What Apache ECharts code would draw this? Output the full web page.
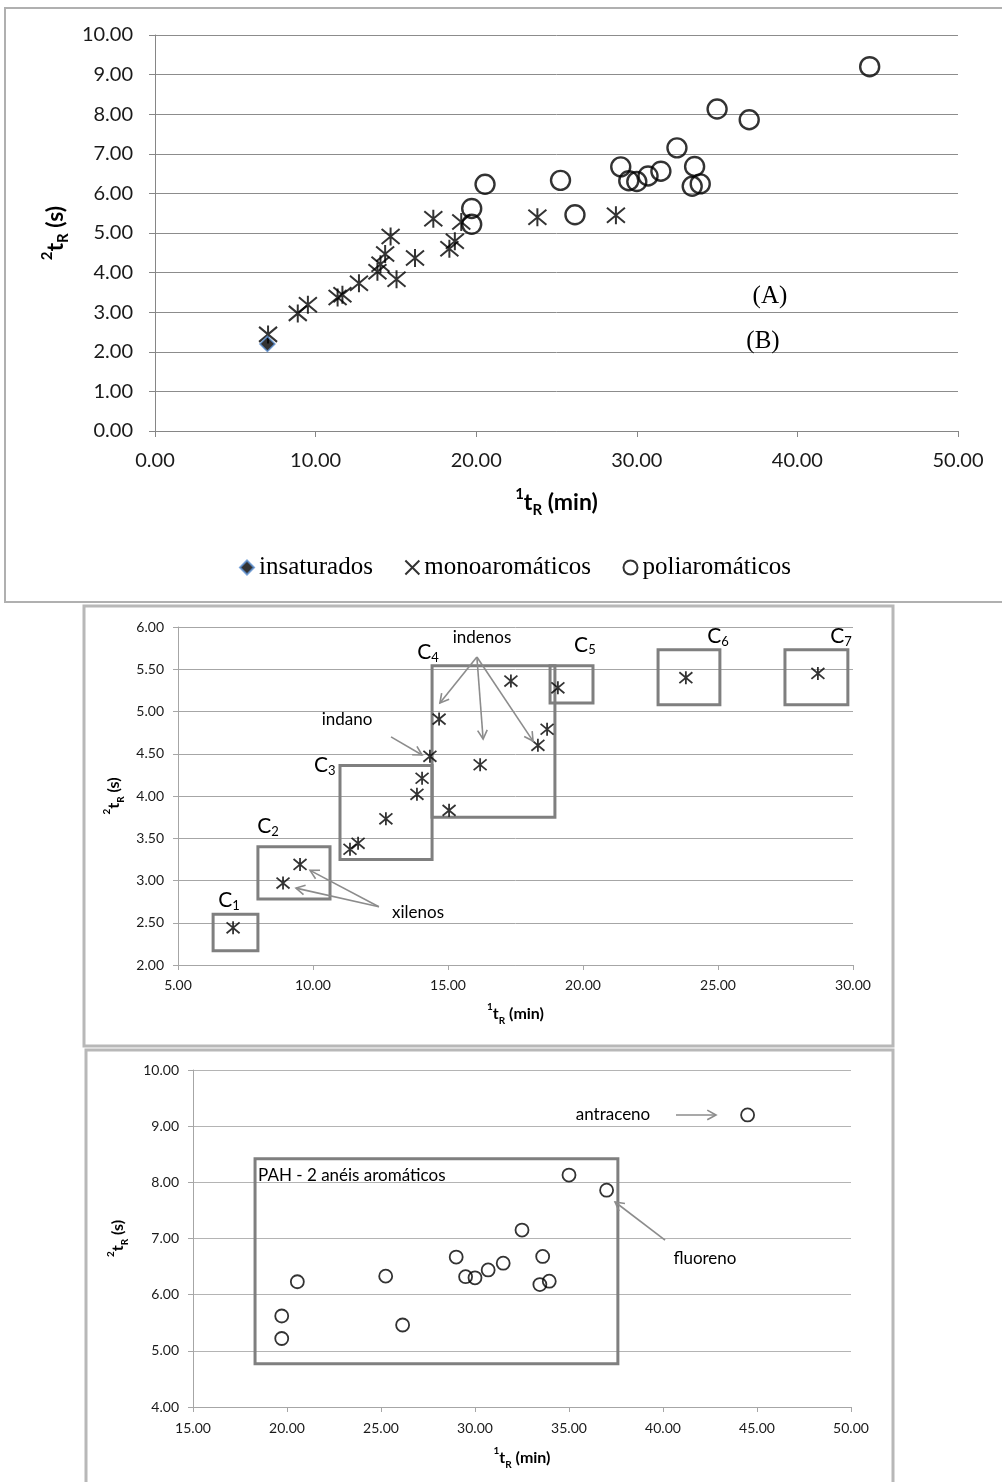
<!DOCTYPE html>
<html>
<head>
<meta charset="utf-8">
<script src="https://cdn.jsdelivr.net/npm/echarts@6/dist/echarts.min.js"></script>
<style>
  html, body { margin: 0; padding: 0; background: #fff; }
  #chart { width: 1002px; height: 1482px; }
</style>
</head>
<body>
<div id="chart"></div>
<script>
// Retention times: first dimension (min) and second dimension (s)
const insatX = [7.00];
const insatY = [2.20];

const monoX = [7.04, 8.89, 9.52, 11.37, 11.67, 12.70, 13.85, 14.04, 14.33, 14.67, 15.04, 16.19, 17.33, 18.33, 18.67, 19.07, 23.81, 28.70];
const monoY = [2.44, 2.97, 3.19, 3.37, 3.44, 3.73, 4.02, 4.21, 4.47, 4.91, 3.83, 4.37, 5.36, 4.60, 4.79, 5.28, 5.40, 5.45];

const poliX = [19.72, 19.72, 20.55, 25.25, 26.15, 29.00, 29.50, 30.00, 30.70, 31.50, 32.50, 33.60, 33.45, 33.95, 35.00, 37.00, 44.50];
const poliY = [5.62, 5.22, 6.23, 6.33, 5.46, 6.67, 6.32, 6.30, 6.44, 6.56, 7.15, 6.68, 6.18, 6.24, 8.13, 7.86, 9.20];

const seriesNames = ['insaturados', 'monoaromáticos', 'poliaromáticos'];

// Carbon-number groups of the monoaromatics: [xMin, yMin, xMax, yMax]
const groupBoxes = [
  [6.30, 2.17, 7.96, 2.60],
  [7.96, 2.78, 10.63, 3.40],
  [11.00, 3.25, 14.41, 4.36],
  [14.41, 3.75, 18.96, 5.54],
  [18.78, 5.10, 20.37, 5.54],
  [22.78, 5.08, 25.07, 5.73],
  [27.48, 5.08, 29.81, 5.73]
];
const groupLabels = ['1', '2', '3', '4', '5', '6', '7'];
const groupLabelPos = [[6.89, 2.77], [8.33, 3.64], [10.44, 4.36], [14.26, 5.70], [20.07, 5.79], [25.00, 5.89], [29.56, 5.89]];

// Compound annotations in the monoaromatics panel
const monoNotes = [['indenos', 16.26, 5.87], ['indano', 11.26, 4.90], ['xilenos', 13.89, 2.62]];
const monoArrows = [
  [16.07, 5.645, 14.70, 5.10],
  [16.07, 5.645, 16.30, 4.675],
  [16.07, 5.645, 18.15, 4.65],
  [12.89, 4.70, 14.04, 4.485],
  [12.44, 2.69, 9.89, 3.12],
  [12.44, 2.69, 9.37, 2.91]
];

// Annotations in the polyaromatics panel
const pahBox = [18.30, 4.77, 37.60, 8.42];
const pahNotes = [['PAH - 2 anéis aromáticos', 18.46, 8.13, 'left'], ['antraceno', 37.34, 9.20, 'center'], ['fluoreno', 42.23, 6.65, 'center']];
const pahArrows = [
  [40.69, 9.20, 42.82, 9.20],
  [40.11, 6.97, 37.45, 7.65]
];

// Panel tags of the overview
const overviewTags = [['(A)', 38.29, 3.41], ['(B)', 37.86, 2.27]];

const zip = (xs, ys) => xs.map((x, i) => [x, ys[i]]);

const ASTERISK = 'path://M0,0L10,10M10,0L0,10M5,-1L5,11';
const CROSS = 'path://M0,0L10,10M10,0L0,10';
const SANS = 'Lato';
const SERIF = 'Liberation Serif';
const NOTE_GRAY = '#8c8c8c';

function nameRich(size, sub) {
  return {
    rich: {
      b: { fontSize: size, fontWeight: 'bold', fontFamily: SANS, color: '#000', lineHeight: size + 8 },
      sup: { fontSize: sub, fontWeight: 'bold', fontFamily: SANS, color: '#000', verticalAlign: 'top', lineHeight: sub + 2 },
      sub: { fontSize: sub, fontWeight: 'bold', fontFamily: SANS, color: '#000', verticalAlign: 'bottom', lineHeight: sub + 2 }
    }
  };
}

function axis(gridIndex, min, max, interval, o) {
  return {
    type: 'value', gridIndex, min, max, interval,
    name: o.name, nameLocation: 'middle', nameGap: o.nameGap, nameRotate: o.rotate || 0,
    nameTextStyle: nameRich(o.nameSize, o.subSize),
    axisLine: { show: true, lineStyle: { color: o.axisColor, width: 1 } },
    axisTick: { show: true, inside: false, length: o.tick, lineStyle: { color: o.axisColor } },
    axisLabel: { fontFamily: SANS, fontSize: o.labelSize, color: '#1a1a1a', margin: o.margin,
      formatter: v => v.toFixed(2) },
    splitLine: { show: o.grid, lineStyle: { color: o.gridColor, width: 1 } }
  };
}

function textSeries(gridIndex, items, style) {
  return {
    type: 'custom', xAxisIndex: gridIndex, yAxisIndex: gridIndex, silent: true, z: 5,
    data: items.map(t => [t[1], t[2]]),
    renderItem: (params, api) => {
      const p = api.coord([api.value(0), api.value(1)]);
      const it = items[params.dataIndex];
      return { type: 'text', x: p[0], y: p[1],
        style: Object.assign({ text: it[0], align: it[3] || 'center', verticalAlign: 'middle' }, style) };
    }
  };
}

function boxSeries(gridIndex, boxes) {
  return {
    type: 'custom', xAxisIndex: gridIndex, yAxisIndex: gridIndex, silent: true, z: 1,
    data: boxes,
    renderItem: (params, api) => {
      const a = api.coord([api.value(0), api.value(3)]);
      const b = api.coord([api.value(2), api.value(1)]);
      return { type: 'rect', shape: { x: a[0], y: a[1], width: b[0] - a[0], height: b[1] - a[1] },
        style: { fill: 'none', stroke: '#7f7f7f', lineWidth: 3 } };
    }
  };
}

// Pointer arrows with an open head at the second point
function arrowSeries(gridIndex, arrows) {
  return {
    type: 'custom', xAxisIndex: gridIndex, yAxisIndex: gridIndex, silent: true, z: 4,
    data: arrows,
    renderItem: (params, api) => {
      const s = api.coord([api.value(0), api.value(1)]);
      const e = api.coord([api.value(2), api.value(3)]);
      const ang = Math.atan2(e[1] - s[1], e[0] - s[0]);
      const len = 10, spread = 0.5;
      const h1 = [e[0] - len * Math.cos(ang - spread), e[1] - len * Math.sin(ang - spread)];
      const h2 = [e[0] - len * Math.cos(ang + spread), e[1] - len * Math.sin(ang + spread)];
      const st = { stroke: NOTE_GRAY, lineWidth: 1.6, fill: 'none' };
      return { type: 'group', children: [
        { type: 'line', shape: { x1: s[0], y1: s[1], x2: e[0], y2: e[1] }, style: st },
        { type: 'polyline', shape: { points: [h1, e, h2] }, style: st }
      ] };
    }
  };
}

const chart = echarts.init(document.getElementById('chart'), null, { renderer: 'canvas' });

const xName = '{sup|1}{b|t}{sub|R}{b| (min)}';
const yName = '{sup|2}{b|t}{sub|R}{b| (s)}';

chart.setOption({
  backgroundColor: '#fff',
  animation: false,
  graphic: [
    { type: 'rect', shape: { x: 5, y: 8, width: 1010, height: 594 }, style: { fill: 'none', stroke: '#b0b0b0', lineWidth: 2 }, silent: true },
    { type: 'rect', shape: { x: 84, y: 606, width: 809, height: 440 }, style: { fill: 'none', stroke: '#b8b8b8', lineWidth: 3 }, silent: true },
    { type: 'rect', shape: { x: 86, y: 1050, width: 807, height: 450 }, style: { fill: 'none', stroke: '#b8b8b8', lineWidth: 3 }, silent: true }
  ],
  legend: {
    data: [
      { name: seriesNames[0], icon: 'diamond' },
      { name: seriesNames[1], icon: CROSS },
      { name: seriesNames[2], icon: 'circle' }
    ],
    left: 234, top: 550, itemGap: 30, itemTextGap: 4,
    itemWidth: 14, itemHeight: 14,
    textStyle: { fontFamily: SERIF, fontSize: 25, color: '#000' }
  },
  grid: [
    { left: 155, top: 35, width: 803, height: 396 },
    { left: 178, top: 627, width: 675, height: 338 },
    { left: 193, top: 1070, width: 658, height: 337 }
  ],
  xAxis: [
    axis(0, 0, 50, 10, { name: xName, nameGap: 56, nameSize: 23, subSize: 15, axisColor: '#868686', tick: 6, labelSize: 20, margin: 20, grid: false }),
    axis(1, 5, 30, 5, { name: xName, nameGap: 37, nameSize: 16, subSize: 10, axisColor: '#a6a6a6', tick: 5, labelSize: 14, margin: 13, grid: false }),
    axis(2, 15, 50, 5, { name: xName, nameGap: 39, nameSize: 16, subSize: 10, axisColor: '#a6a6a6', tick: 5, labelSize: 14, margin: 14, grid: false })
  ],
  yAxis: [
    axis(0, 0, 10, 1, { name: yName, nameGap: 80, rotate: 90, nameSize: 23, subSize: 15, axisColor: '#868686', tick: 6, labelSize: 20, margin: 22, grid: true, gridColor: '#8c8c8c' }),
    axis(1, 2, 6, 0.5, { name: yName, nameGap: 50, rotate: 90, nameSize: 16, subSize: 10, axisColor: '#a6a6a6', tick: 5, labelSize: 14, margin: 14, grid: true, gridColor: '#a6a6a6' }),
    axis(2, 4, 10, 1, { name: yName, nameGap: 63, rotate: 90, nameSize: 16, subSize: 10, axisColor: '#a6a6a6', tick: 5, labelSize: 14, margin: 14, grid: true, gridColor: '#b4b4b4' })
  ],
  series: [
    // Overview: all compound classes
    { name: seriesNames[1], type: 'scatter', xAxisIndex: 0, yAxisIndex: 0, z: 3,
      data: zip(monoX, monoY), symbol: ASTERISK, symbolSize: 18,
      itemStyle: { color: 'none', borderColor: '#000', borderWidth: 2 } },
    { name: seriesNames[2], type: 'scatter', xAxisIndex: 0, yAxisIndex: 0, z: 3,
      data: zip(poliX, poliY), symbol: 'circle', symbolSize: 19,
      itemStyle: { color: 'none', borderColor: '#000', borderWidth: 2.4 } },
    { name: seriesNames[0], type: 'scatter', xAxisIndex: 0, yAxisIndex: 0, z: 4,
      data: zip(insatX, insatY), symbol: 'diamond', symbolSize: 15,
      itemStyle: { color: '#000', borderColor: '#5b8fd0', borderWidth: 1.5 } },
    textSeries(0, overviewTags, { fontFamily: SERIF, fontSize: 25, fill: '#000' }),

    // Monoaromatics by carbon group
    boxSeries(1, groupBoxes),
    arrowSeries(1, monoArrows),
    { name: 'mono-detalhe', type: 'scatter', xAxisIndex: 1, yAxisIndex: 1, z: 3,
      data: zip(monoX, monoY), symbol: ASTERISK, symbolSize: 13,
      itemStyle: { color: 'none', borderColor: '#000', borderWidth: 1.8 } },
    {
      type: 'custom', xAxisIndex: 1, yAxisIndex: 1, silent: true, z: 5,
      data: groupLabelPos,
      renderItem: (params, api) => {
        const p = api.coord([api.value(0), api.value(1)]);
        return { type: 'text', x: p[0], y: p[1],
          style: { text: '{c|C}{n|' + groupLabels[params.dataIndex] + '}', align: 'center', verticalAlign: 'middle',
            rich: { c: { fontFamily: SANS, fontSize: 21, fill: '#000', lineHeight: 24 },
                    n: { fontFamily: SANS, fontSize: 13, fill: '#000', verticalAlign: 'bottom', lineHeight: 18 } } } };
      }
    },
    textSeries(1, monoNotes, { fontFamily: SANS, fontSize: 17, fill: '#000' }),

    // Polyaromatics
    boxSeries(2, [pahBox]),
    arrowSeries(2, pahArrows),
    { name: 'poli-detalhe', type: 'scatter', xAxisIndex: 2, yAxisIndex: 2, z: 3,
      data: zip(poliX, poliY), symbol: 'circle', symbolSize: 13,
      itemStyle: { color: 'none', borderColor: '#000', borderWidth: 1.8 } },
    textSeries(2, pahNotes, { fontFamily: SANS, fontSize: 17, fill: '#000' })
  ]
});
</script>
</body>
</html>
